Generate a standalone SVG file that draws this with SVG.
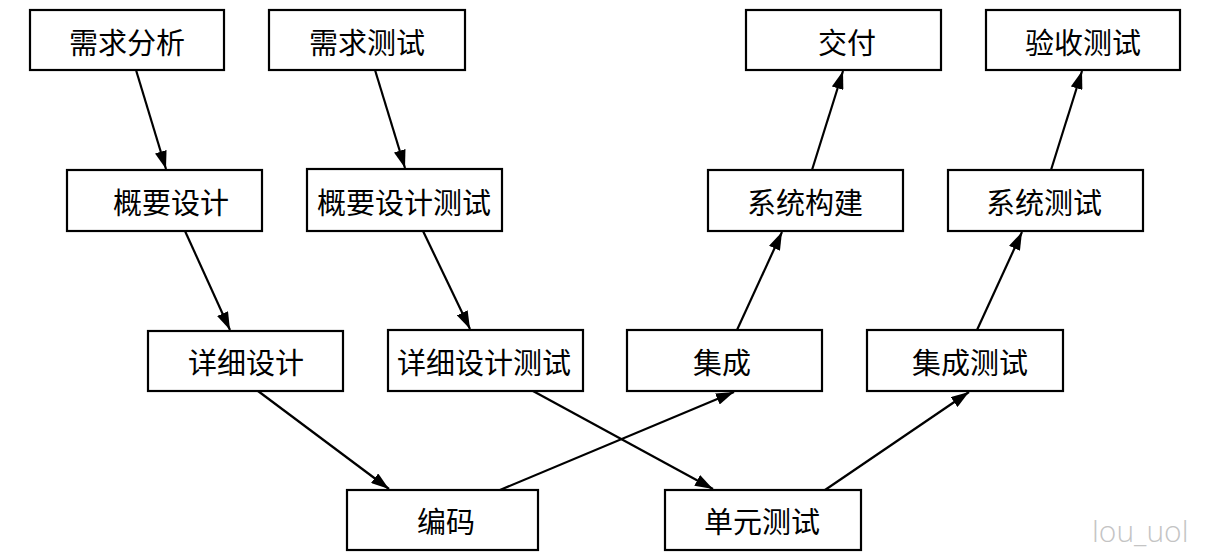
<svg xmlns="http://www.w3.org/2000/svg" width="1210" height="560" viewBox="0 0 1210 560">
<style>
.box{fill:#fff;stroke:#000;stroke-width:2.2}
.lbl{font-family:"Noto Sans CJK SC","Noto Sans CJK TC",sans-serif;font-size:29px;fill:#000;text-anchor:middle;dominant-baseline:central}
.edge{stroke:#000;stroke-width:2.2;fill:none;marker-end:url(#ah)}
.wm{font-family:"Open Sans","DejaVu Sans",sans-serif;font-size:30px;font-weight:300;fill:#c4c4c4}
</style>
<defs>
<marker id="ah" viewBox="0 0 18 12" refX="18" refY="6" markerWidth="18" markerHeight="12" markerUnits="userSpaceOnUse" orient="auto">
<path d="M0,0 L18,6 L0,12 Z" fill="#000"/>
</marker>
</defs>
<rect width="1210" height="560" fill="#fff"/>
<g id="connectors">
<line class="edge" x1="136" y1="70" x2="166" y2="169"/>
<line class="edge" x1="375" y1="70" x2="405" y2="168"/>
<line class="edge" x1="185" y1="231" x2="230" y2="330"/>
<line class="edge" x1="423" y1="231" x2="470" y2="329"/>
<line class="edge" x1="258" y1="391" x2="389" y2="489"/>
<line class="edge" x1="533" y1="391" x2="713" y2="489"/>
<line class="edge" x1="500" y1="490" x2="734" y2="392"/>
<line class="edge" x1="825" y1="490" x2="969" y2="392"/>
<line class="edge" x1="737" y1="330" x2="782" y2="232"/>
<line class="edge" x1="977" y1="330" x2="1022" y2="232"/>
<line class="edge" x1="812" y1="170" x2="843" y2="71"/>
<line class="edge" x1="1051" y1="170" x2="1082" y2="71"/>
</g>
<g id="n1"><rect class="box" x="30" y="10" width="194" height="60"/><text class="lbl" x="127" y="41">需求分析</text></g>
<g id="n2"><rect class="box" x="269" y="10" width="196" height="60"/><text class="lbl" x="367" y="41">需求测试</text></g>
<g id="n3"><rect class="box" x="67" y="170" width="195" height="61"/><text class="lbl" x="171" y="201">概要设计</text></g>
<g id="n4"><rect class="box" x="307" y="169" width="195" height="62"/><text class="lbl" x="404" y="201">概要设计测试</text></g>
<g id="n5"><rect class="box" x="148" y="331" width="195" height="60"/><text class="lbl" x="246" y="361">详细设计</text></g>
<g id="n6"><rect class="box" x="388" y="330" width="195" height="61"/><text class="lbl" x="484" y="361">详细设计测试</text></g>
<g id="n7"><rect class="box" x="347" y="490" width="191" height="60"/><text class="lbl" x="446" y="520">编码</text></g>
<g id="n8"><rect class="box" x="665" y="490" width="196" height="60"/><text class="lbl" x="762" y="520">单元测试</text></g>
<g id="n9"><rect class="box" x="627" y="330" width="195" height="61"/><text class="lbl" x="722" y="361">集成</text></g>
<g id="n10"><rect class="box" x="867" y="330" width="196" height="61"/><text class="lbl" x="970" y="361">集成测试</text></g>
<g id="n11"><rect class="box" x="708" y="170" width="195" height="61"/><text class="lbl" x="805" y="201">系统构建</text></g>
<g id="n12"><rect class="box" x="948" y="170" width="195" height="61"/><text class="lbl" x="1044" y="201">系统测试</text></g>
<g id="n13"><rect class="box" x="746" y="10" width="195" height="60"/><text class="lbl" x="847" y="41">交付</text></g>
<g id="n14"><rect class="box" x="986" y="10" width="194" height="60"/><text class="lbl" x="1083" y="41">验收测试</text></g>
<text class="wm" x="1092" y="542">lou_uol</text>
</svg>
